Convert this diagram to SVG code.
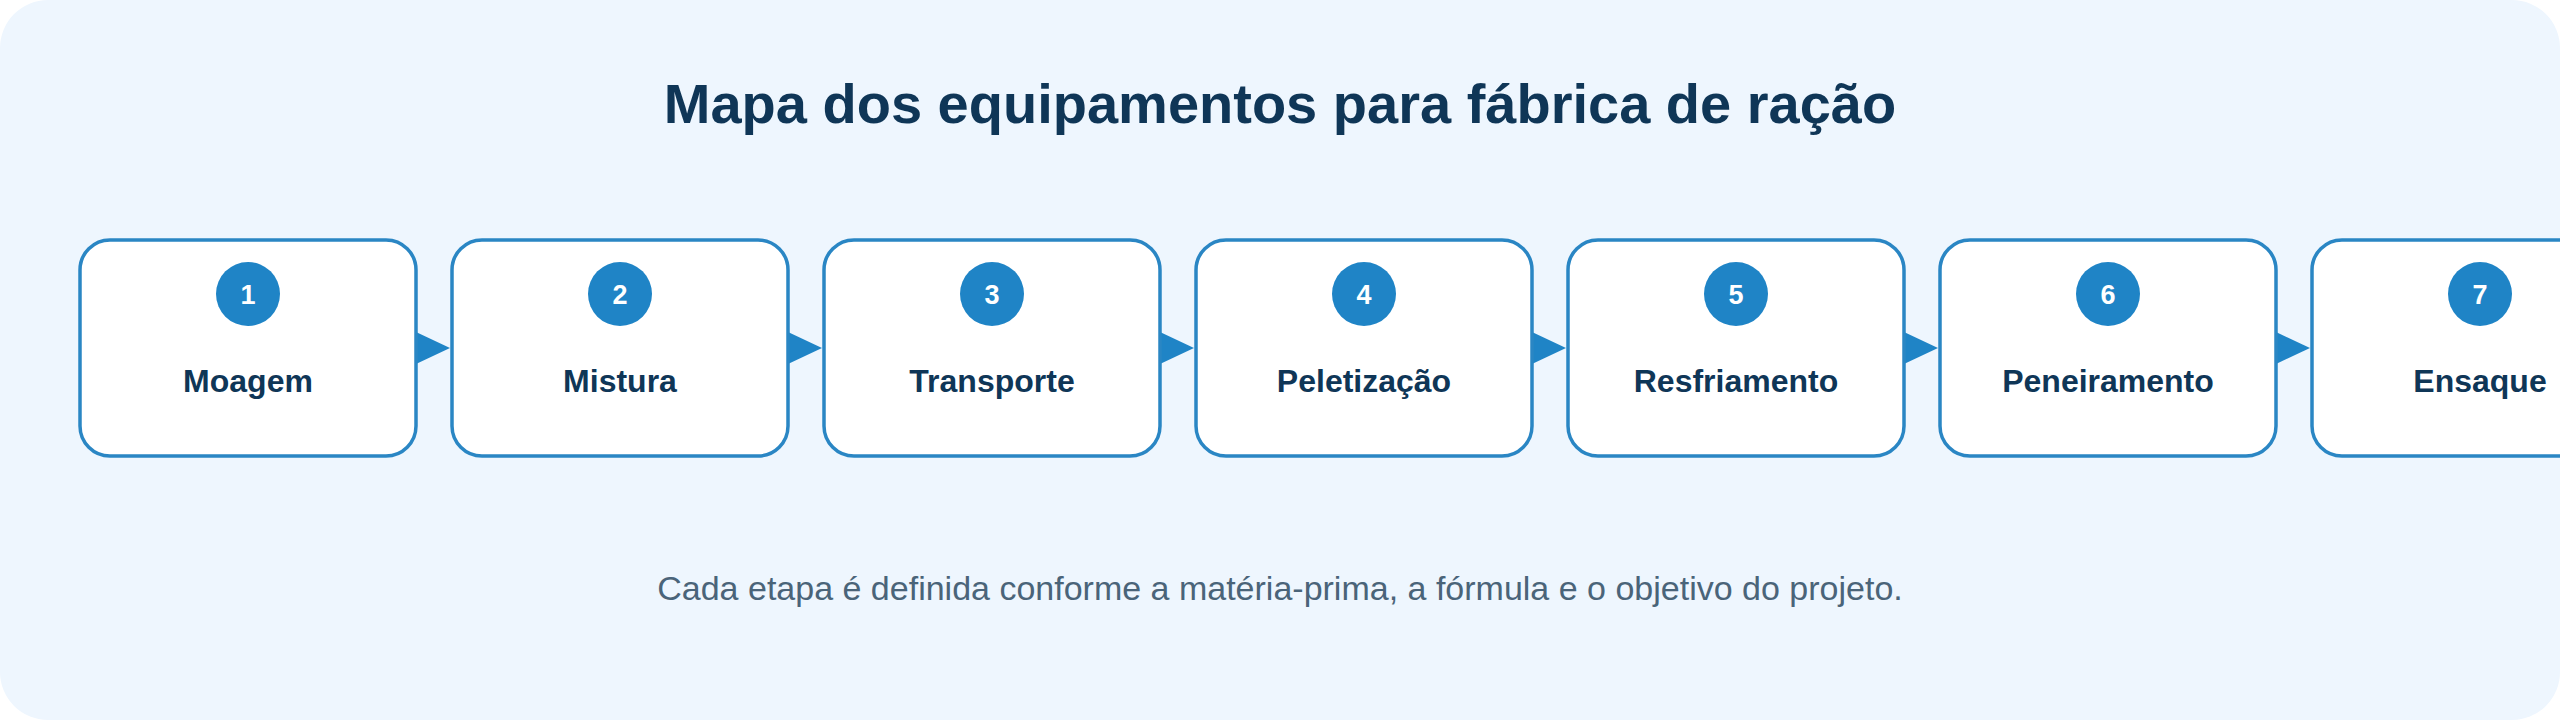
<svg xmlns="http://www.w3.org/2000/svg" width="2560" height="720" viewBox="0 0 2560 720">
  <style>
    .bg { fill: #EEF6FE; }
    .title { font-family: "Liberation Sans", Arial, sans-serif; font-weight: 700; font-size: 56px; fill: #0F3657; text-anchor: middle; }
    .sub { font-family: "Liberation Sans", Arial, sans-serif; font-size: 34px; fill: #4A6479; text-anchor: middle; }
    .box { fill: #FFFFFF; stroke: #2A86C4; stroke-width: 3.5; }
    .badge { fill: #1F84C6; }
    .num { font-family: "Liberation Sans", Arial, sans-serif; font-weight: 700; font-size: 27px; fill: #FFFFFF; text-anchor: middle; }
    .label { font-family: "Liberation Sans", Arial, sans-serif; font-weight: 700; font-size: 32px; fill: #0F3657; text-anchor: middle; }
    .conn { fill: none; stroke: none; }
  </style>
  <defs>
    <marker id="arr" viewBox="0 0 34 32" refX="34" refY="16" markerWidth="34" markerHeight="32" markerUnits="userSpaceOnUse" orient="auto">
      <path d="M0 0 L34 16 L0 32 Z" fill="#1F84C6"/>
    </marker>
  </defs>

  <rect class="bg" x="0" y="0" width="2560" height="720" rx="48" ry="48"/>

  <text class="title" x="1280" y="123">Mapa dos equipamentos para fábrica de ração</text>

  <g id="connectors">
    <path class="conn" d="M416 348 H450" marker-end="url(#arr)"/>
    <path class="conn" d="M788 348 H822" marker-end="url(#arr)"/>
    <path class="conn" d="M1160 348 H1194" marker-end="url(#arr)"/>
    <path class="conn" d="M1532 348 H1566" marker-end="url(#arr)"/>
    <path class="conn" d="M1904 348 H1938" marker-end="url(#arr)"/>
    <path class="conn" d="M2276 348 H2310" marker-end="url(#arr)"/>
  </g>

  <g id="node1">
    <rect class="box" x="80" y="240" width="336" height="216" rx="30"/>
    <circle class="badge" cx="248" cy="294" r="32"/>
    <text class="num" x="248" y="304">1</text>
    <text class="label" x="248" y="392">Moagem</text>
  </g>
  <g id="node2">
    <rect class="box" x="452" y="240" width="336" height="216" rx="30"/>
    <circle class="badge" cx="620" cy="294" r="32"/>
    <text class="num" x="620" y="304">2</text>
    <text class="label" x="620" y="392">Mistura</text>
  </g>
  <g id="node3">
    <rect class="box" x="824" y="240" width="336" height="216" rx="30"/>
    <circle class="badge" cx="992" cy="294" r="32"/>
    <text class="num" x="992" y="304">3</text>
    <text class="label" x="992" y="392">Transporte</text>
  </g>
  <g id="node4">
    <rect class="box" x="1196" y="240" width="336" height="216" rx="30"/>
    <circle class="badge" cx="1364" cy="294" r="32"/>
    <text class="num" x="1364" y="304">4</text>
    <text class="label" x="1364" y="392">Peletização</text>
  </g>
  <g id="node5">
    <rect class="box" x="1568" y="240" width="336" height="216" rx="30"/>
    <circle class="badge" cx="1736" cy="294" r="32"/>
    <text class="num" x="1736" y="304">5</text>
    <text class="label" x="1736" y="392">Resfriamento</text>
  </g>
  <g id="node6">
    <rect class="box" x="1940" y="240" width="336" height="216" rx="30"/>
    <circle class="badge" cx="2108" cy="294" r="32"/>
    <text class="num" x="2108" y="304">6</text>
    <text class="label" x="2108" y="392">Peneiramento</text>
  </g>
  <g id="node7">
    <rect class="box" x="2312" y="240" width="336" height="216" rx="30"/>
    <circle class="badge" cx="2480" cy="294" r="32"/>
    <text class="num" x="2480" y="304">7</text>
    <text class="label" x="2480" y="392">Ensaque</text>
  </g>

  <text class="sub" x="1280" y="600">Cada etapa é definida conforme a matéria-prima, a fórmula e o objetivo do projeto.</text>
</svg>
